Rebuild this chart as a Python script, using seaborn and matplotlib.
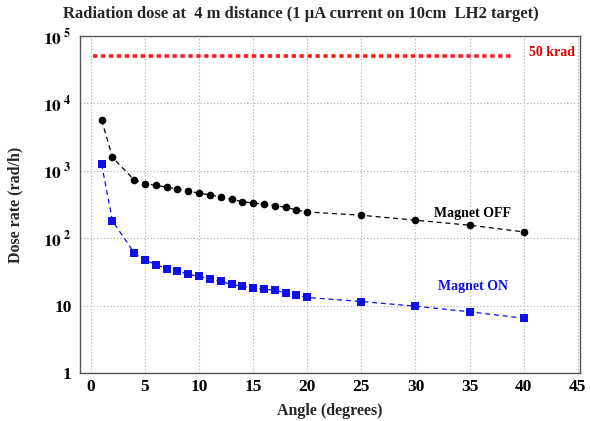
import matplotlib
matplotlib.use("Agg")
import matplotlib.pyplot as plt
import seaborn as sns
import pandas as pd
import numpy as np
from matplotlib.ticker import MultipleLocator, LogLocator, FixedLocator, NullFormatter

sns.set_style("white")
plt.rcParams['font.family'] = ['Liberation Serif', 'DejaVu Serif']
plt.rcParams['mathtext.fontset'] = 'stix'

angles = [1, 2, 4, 5, 6, 7, 8, 9, 10, 11, 12, 13, 14, 15, 16, 17, 18, 19, 20, 25, 30, 35, 40]
dose_off = [5660, 1585, 731, 645, 610, 570, 537, 497, 469, 438, 409, 378, 348, 333, 319,
            304, 288, 262, 245, 219, 185, 156, 124]
dose_on = [1248, 180, 61, 47.7, 40.7, 35.5, 33, 29.2, 27.2, 24.9, 22.8, 20.6, 19.4, 18.2,
           17.5, 16.9, 15.5, 14.2, 13.2, 11.5, 9.8, 8.1, 6.5]
limit_x = [0.2, 39]
limit_y = [50000, 50000]
x_ticks = [0, 5, 10, 15, 20, 25, 30, 35, 40, 45]
y_ticks = [1, 10, 100, 1000, 10000, 100000]
y_labels = ["1", "10", r"$\mathbf{10}^{\ \mathbf{2}}$", r"$\mathbf{10}^{\ \mathbf{3}}$",
            r"$\mathbf{10}^{\ \mathbf{4}}$", r"$\mathbf{10}^{\ \mathbf{5}}$"]

df_off = pd.DataFrame({"angle": angles, "dose": dose_off})
df_on = pd.DataFrame({"angle": angles, "dose": dose_on})
df_lim = pd.DataFrame({"angle": limit_x, "dose": limit_y})

fig = plt.figure(figsize=(5.9, 4.21), dpi=100)
ax = fig.add_axes([80/590, 1-373/421, (580-80)/590, (373-36)/421])

sns.lineplot(data=df_lim, x="angle", y="dose", ax=ax, color="#ff1a1a", lw=2.6,
             linestyle=(0, (1.2, 1.0)))
sns.lineplot(data=df_off, x="angle", y="dose", ax=ax, color="black", lw=0.9,
             linestyle=(0, (4, 3)), marker="o", markersize=5.5, markeredgewidth=0)
sns.lineplot(data=df_on, x="angle", y="dose", ax=ax, color="#1010e8", lw=0.9,
             linestyle=(0, (4, 3)), marker="s", markersize=5.5, markeredgewidth=0)

ax.set_yscale("log")
ax.set_xlim(-1, 45.2)
ax.set_ylim(1, 1e5)

ax.xaxis.set_major_locator(FixedLocator(x_ticks))
ax.xaxis.set_minor_locator(MultipleLocator(1))
ax.yaxis.set_major_locator(FixedLocator(y_ticks))
ax.yaxis.set_minor_locator(LogLocator(base=10, subs=np.arange(2, 10)))
ax.yaxis.set_minor_formatter(NullFormatter())
ax.set_yticklabels(y_labels)
ax.set_xticklabels([str(t) for t in x_ticks])

ax.tick_params(axis="both", which="major", direction="in", length=8, width=0.8,
               labelsize=12.5, colors="#444444", labelcolor="black")
ax.tick_params(axis="both", which="minor", direction="in", length=4, width=0.6,
               colors="#444444")
ax.tick_params(axis="x", pad=4)
ax.tick_params(axis="y", pad=6)
for lab in ax.get_xticklabels() + ax.get_yticklabels():
    lab.set_fontweight("bold")

ax.grid(True, which="major", linestyle=(0, (1, 2)), color="#aaaaaa", lw=0.8)
for s in ax.spines.values():
    s.set_color("#555555")
    s.set_linewidth(1.0)

ax.set_xlabel("Angle (degrees)", fontsize=11.5, fontweight="bold", labelpad=6)
ax.set_ylabel("Dose rate (rad/h)", fontsize=11.5, fontweight="bold", labelpad=14)

ax.text(40.5, 50000 * 1.12, "50 krad", color="#e00000", fontsize=10, fontweight="bold",
        ha="left", va="center")
ax.text(35.3, 230, "Magnet OFF", color="black", fontsize=10, fontweight="bold",
        ha="center", va="center")
ax.text(35.3, 19, "Magnet ON", color="#1010e8", fontsize=10, fontweight="bold",
        ha="center", va="center")

fig.text(0.51, 1-14/421, "Radiation dose at  4 m distance (1 \u03bcA current on 10cm  LH2 target)",
         ha="center", va="center", fontsize=12, fontweight="bold")

fig.savefig("out.png", dpi=100)
